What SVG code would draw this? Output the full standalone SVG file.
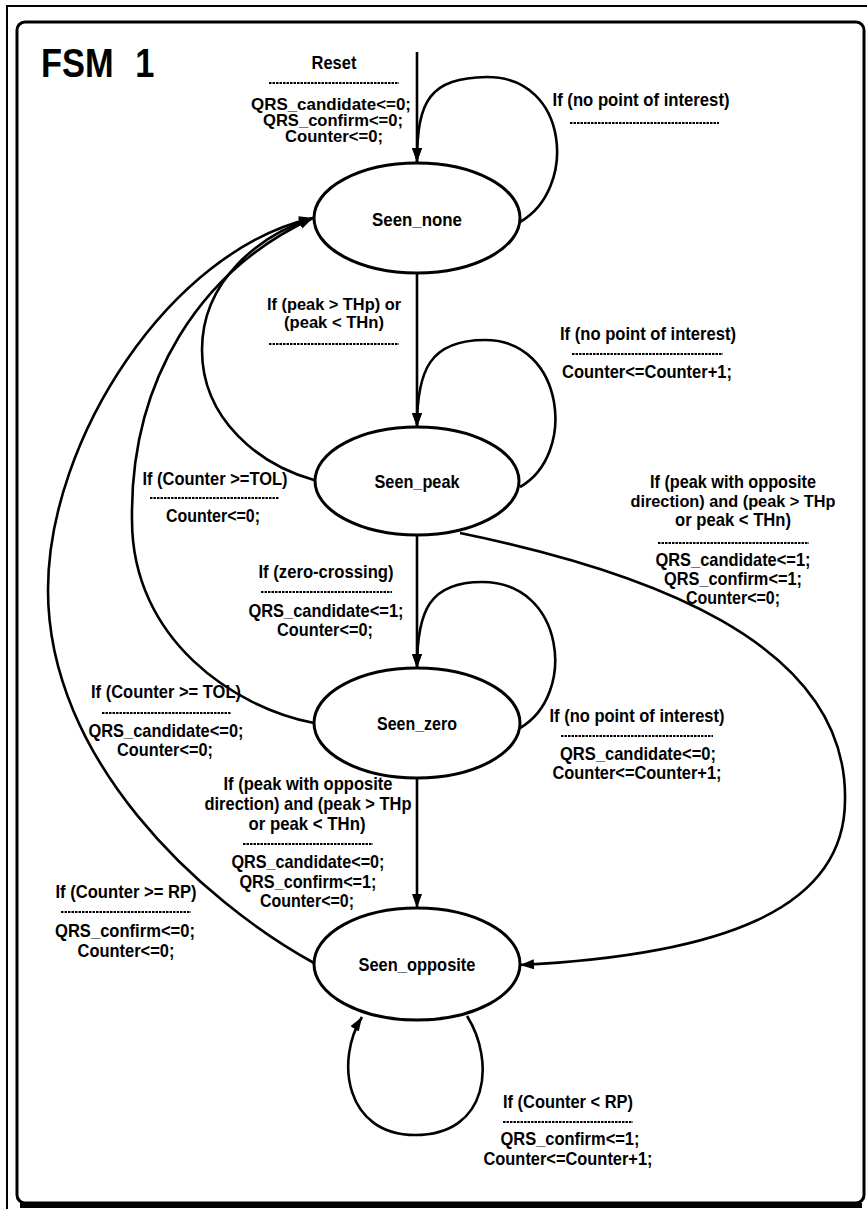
<svg xmlns="http://www.w3.org/2000/svg" width="867" height="1209" viewBox="0 0 867 1209">
  <style>
    .state { fill: #fff; stroke: #000; stroke-width: 3; }
    .edge { fill: none; stroke: #000; stroke-width: 2.6; }
    .sep { stroke: #000; stroke-width: 2; stroke-dasharray: 2.5 1; }
    text { font-family: "Liberation Sans", Arial, sans-serif; font-weight: bold; font-size: 19px; fill: #000; text-anchor: middle; }
    .tight { font-size: 16.5px; }
    .title { font-size: 40px; text-anchor: start; word-spacing: 14px; }
  </style>
  <defs>
    <marker id="arrow" markerUnits="userSpaceOnUse" markerWidth="16" markerHeight="12" refX="14" refY="5" orient="auto">
      <path d="M0,0 L14,5 L0,10 z" fill="#000"/>
    </marker>
  </defs>

  <rect width="867" height="1209" fill="#fff"/>

  <!-- frame -->
  <g id="frame">
    <path d="M7,1209 V6 H867" fill="none" stroke="#000" stroke-width="2"/>
    <rect x="17" y="22" width="847" height="1181" rx="8" fill="none" stroke="#000" stroke-width="3"/>
    <path d="M20,1205.5 H862" stroke="#000" stroke-width="5"/>
  </g>

  <text class="title" transform="translate(41,77) scale(0.86,1)">FSM 1</text>

  <!-- transitions -->
  <g id="connectors">
    <!-- reset -->
    <path class="edge" d="M417,52 V162" marker-end="url(#arrow)"/>
    <!-- self loops -->
    <path class="edge" d="M520,222 C577,190 570,77 487,77 C430,78 417,100 417,162" marker-end="url(#arrow)"/>
    <path class="edge" d="M520,487 C577,455 565,340 485,340 C430,340 417,370 417,427" marker-end="url(#arrow)"/>
    <path class="edge" d="M520,728 C577,695 565,582 482,582 C430,582 417,610 417,668" marker-end="url(#arrow)"/>
    <path class="edge" d="M467,1016 C495,1060 490,1135 415,1135 C345,1135 335,1060 362,1017" marker-end="url(#arrow)"/>
    <!-- forward -->
    <path class="edge" d="M417,273 V427" marker-end="url(#arrow)"/>
    <path class="edge" d="M417,535 V668" marker-end="url(#arrow)"/>
    <path class="edge" d="M417,778 V908" marker-end="url(#arrow)"/>
    <path class="edge" d="M460,533 C640,570 848,640 845,800 C845,910 720,955 520,965" marker-end="url(#arrow)"/>
    <!-- back to Seen_none -->
    <path class="edge" d="M314,480 C260,465 202,420 202,350 C202,280 260,235 313,218" marker-end="url(#arrow)"/>
    <path class="edge" d="M314,723 C235,708 132,640 132,520 C130,380 200,270 313,218" marker-end="url(#arrow)"/>
    <path class="edge" d="M314,963 C200,900 48,760 48,590 C48,440 170,250 313,218" marker-end="url(#arrow)"/>
  </g>

  <!-- states -->
  <g id="seen_none">
    <ellipse class="state" cx="417" cy="218" rx="103" ry="55"/>
    <text x="417" y="226" textLength="90" lengthAdjust="spacingAndGlyphs">Seen_none</text>
  </g>
  <g id="seen_peak">
    <ellipse class="state" cx="417" cy="481" rx="102" ry="54"/>
    <text x="417" y="488" textLength="85" lengthAdjust="spacingAndGlyphs">Seen_peak</text>
  </g>
  <g id="seen_zero">
    <ellipse class="state" cx="417" cy="723" rx="103" ry="55"/>
    <text x="417" y="730" textLength="80" lengthAdjust="spacingAndGlyphs">Seen_zero</text>
  </g>
  <g id="seen_opposite">
    <ellipse class="state" cx="417" cy="964" rx="103" ry="56"/>
    <text x="417" y="971" textLength="117" lengthAdjust="spacingAndGlyphs">Seen_opposite</text>
  </g>

  <!-- transition labels -->
  <g id="labels">
    <text x="334" y="69" textLength="45" lengthAdjust="spacingAndGlyphs">Reset</text>
    <line class="sep" x1="269" y1="83" x2="399" y2="83"/>
    <text class="tight" x="331" y="110" textLength="160" lengthAdjust="spacingAndGlyphs">QRS_candidate&lt;=0;</text>
    <text class="tight" x="333" y="126" textLength="140" lengthAdjust="spacingAndGlyphs">QRS_confirm&lt;=0;</text>
    <text class="tight" x="334" y="142" textLength="98" lengthAdjust="spacingAndGlyphs">Counter&lt;=0;</text>

    <text x="641" y="106" textLength="177" lengthAdjust="spacingAndGlyphs">If (no point of interest)</text>
    <line class="sep" x1="570" y1="123" x2="719" y2="123"/>

    <text class="tight" x="334" y="310" textLength="134" lengthAdjust="spacingAndGlyphs">If (peak &gt; THp) or</text>
    <text class="tight" x="334" y="328" textLength="100" lengthAdjust="spacingAndGlyphs">(peak &lt; THn)</text>
    <line class="sep" x1="269" y1="344" x2="399" y2="344"/>

    <text x="648" y="340" textLength="176" lengthAdjust="spacingAndGlyphs">If (no point of interest)</text>
    <line class="sep" x1="572" y1="354" x2="723" y2="354"/>
    <text x="647" y="378" textLength="170" lengthAdjust="spacingAndGlyphs">Counter&lt;=Counter+1;</text>

    <text x="215" y="485" textLength="145" lengthAdjust="spacingAndGlyphs">If (Counter &gt;=TOL)</text>
    <line class="sep" x1="150" y1="498" x2="279" y2="498"/>
    <text x="213" y="522" textLength="94" lengthAdjust="spacingAndGlyphs">Counter&lt;=0;</text>

    <text x="733" y="488" textLength="166" lengthAdjust="spacingAndGlyphs">If (peak with opposite</text>
    <text class="tight" x="733" y="507" textLength="205" lengthAdjust="spacingAndGlyphs">direction) and (peak &gt; THp</text>
    <text x="733" y="526" textLength="116" lengthAdjust="spacingAndGlyphs">or peak &lt; THn)</text>
    <line class="sep" x1="658" y1="543" x2="809" y2="543"/>
    <text x="733" y="566" textLength="155" lengthAdjust="spacingAndGlyphs">QRS_candidate&lt;=1;</text>
    <text x="733" y="585" textLength="138" lengthAdjust="spacingAndGlyphs">QRS_confirm&lt;=1;</text>
    <text x="733" y="604" textLength="94" lengthAdjust="spacingAndGlyphs">Counter&lt;=0;</text>

    <text x="326" y="578" textLength="135" lengthAdjust="spacingAndGlyphs">If (zero-crossing)</text>
    <line class="sep" x1="261" y1="592" x2="392" y2="592"/>
    <text x="326" y="617" textLength="155" lengthAdjust="spacingAndGlyphs">QRS_candidate&lt;=1;</text>
    <text x="325" y="636" textLength="96" lengthAdjust="spacingAndGlyphs">Counter&lt;=0;</text>

    <text x="166" y="698" textLength="150" lengthAdjust="spacingAndGlyphs">If (Counter &gt;= TOL)</text>
    <line class="sep" x1="102" y1="713" x2="231" y2="713"/>
    <text x="166" y="737" textLength="155" lengthAdjust="spacingAndGlyphs">QRS_candidate&lt;=0;</text>
    <text x="165" y="756" textLength="96" lengthAdjust="spacingAndGlyphs">Counter&lt;=0;</text>

    <text x="637" y="722" textLength="175" lengthAdjust="spacingAndGlyphs">If (no point of interest)</text>
    <line class="sep" x1="561" y1="736" x2="713" y2="736"/>
    <text x="638" y="760" textLength="156" lengthAdjust="spacingAndGlyphs">QRS_candidate&lt;=0;</text>
    <text x="637" y="779" textLength="169" lengthAdjust="spacingAndGlyphs">Counter&lt;=Counter+1;</text>

    <text x="308" y="790" textLength="169" lengthAdjust="spacingAndGlyphs">If (peak with opposite</text>
    <text x="308" y="810" textLength="207" lengthAdjust="spacingAndGlyphs">direction) and (peak &gt; THp</text>
    <text x="307" y="830" textLength="117" lengthAdjust="spacingAndGlyphs">or peak &lt; THn)</text>
    <line class="sep" x1="243" y1="844" x2="373" y2="844"/>
    <text x="308" y="868" textLength="153" lengthAdjust="spacingAndGlyphs">QRS_candidate&lt;=0;</text>
    <text x="308" y="888" textLength="137" lengthAdjust="spacingAndGlyphs">QRS_confirm&lt;=1;</text>
    <text x="307" y="907" textLength="94" lengthAdjust="spacingAndGlyphs">Counter&lt;=0;</text>

    <text x="126" y="898" textLength="141" lengthAdjust="spacingAndGlyphs">If (Counter &gt;= RP)</text>
    <line class="sep" x1="61" y1="912" x2="191" y2="912"/>
    <text x="125" y="937" textLength="140" lengthAdjust="spacingAndGlyphs">QRS_confirm&lt;=0;</text>
    <text x="126" y="957" textLength="97" lengthAdjust="spacingAndGlyphs">Counter&lt;=0;</text>

    <text x="568" y="1108" textLength="130" lengthAdjust="spacingAndGlyphs">If (Counter &lt; RP)</text>
    <line class="sep" x1="503" y1="1122" x2="633" y2="1122"/>
    <text x="570" y="1145" textLength="139" lengthAdjust="spacingAndGlyphs">QRS_confirm&lt;=1;</text>
    <text x="568" y="1165" textLength="169" lengthAdjust="spacingAndGlyphs">Counter&lt;=Counter+1;</text>
  </g>
</svg>
